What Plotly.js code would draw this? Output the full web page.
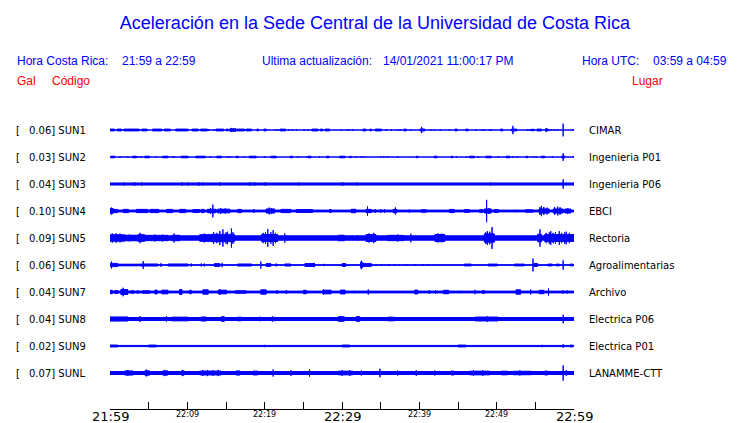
<!DOCTYPE html>
<html><head><meta charset="utf-8">
<script src="https://cdn.plot.ly/plotly-3.0.1.min.js"></script>
<style>html,body{margin:0;padding:0;background:#fff}</style>
</head><body><div id="chart" style="width:740px;height:423px"></div>
<script>
// ---------------- data ----------------
var stationCodes = ["SUN1","SUN2","SUN3","SUN4","SUN5","SUN6","SUN7","SUN8","SUN9","SUNL"];
var peakGal = [0.06,0.03,0.04,0.10,0.09,0.06,0.04,0.04,0.02,0.07];
var places = ["CIMAR","Ingenieria P01","Ingenieria P06","EBCI","Rectoria","Agroalimentarias","Archivo","Electrica P06","Electrica P01","LANAMME-CTT"];
var timeTickMinutes = [0,5,10,15,20,25,30,35,40,45,50,55,60];
var timeLabelMinutes = [0,10,20,30,40,50,60];
var timeLabels = ["21:59","22:09","22:19","22:29","22:39","22:49","22:59"];
var majorLabel = [true,false,false,true,false,false,true];
// continuous background envelope (half amplitude, Gal) per station
var baseAmp = [0,0,0.009,0.008,0.019,0.003,0.008,0.013,0.005,0.013];
// bursts: [start minute, end minute, half amplitude Gal]
var sun1 = [[0,0.6,.008],[0.9,1.5,.008],[1.8,3.8,.008],[4.1,4.8,.008],[5.5,6.7,.008],[7.0,7.8,.008],[8.5,10.1,.008],[10.6,11.4,.008],[11.7,12.6,.008],[12.8,12.8,.008],[13.4,13.4,.008],[13.7,14.7,.008],[15.0,15.3,.008],[15.5,16.3,.011],[15.7,15.7,.018],[16.4,17.4,.008],[17.6,18.3,.008],[19.0,19.2,.008],[19.9,20.2,.008],[21.4,21.4,.006],[21.7,21.7,.006],[22.0,22.7,.008],[23.1,23.1,.006],[23.6,23.6,.006],[24.1,24.1,.006],[25.1,25.1,.006],[25.6,25.6,.006],[26.1,26.9,.008],[27.2,27.5,.008],[27.8,28.4,.008],[29.9,29.9,.006],[30.7,30.7,.006],[31.0,31.0,.006],[31.4,31.4,.006],[32.7,33.1,.008],[33.6,33.8,.008],[34.3,35.1,.008],[35.7,35.7,.006],[36.4,36.4,.006],[37.1,37.1,.006],[37.5,37.5,.006],[38.0,38.3,.008],[38.9,38.9,.006],[40.1,40.7,.009],[40.3,40.3,.027],[41.5,41.5,.006],[41.9,41.9,.006],[42.7,42.7,.006],[43.9,43.9,.006],[44.6,44.9,.008],[46.0,46.3,.008],[47.3,47.3,.006],[48.1,48.1,.006],[48.4,48.4,.006],[49.1,49.1,.006],[49.3,49.3,.006],[50.5,50.8,.008],[51.9,52.6,.008],[52.1,52.1,.036],[54.0,54.0,.006],[54.2,54.2,.006],[54.4,54.9,.006],[55.2,55.8,.008],[56.3,56.7,.008],[56.4,56.4,.018],[57.0,57.0,.006],[57.5,57.5,.006],[57.9,57.9,.006],[58.6,58.6,.055],[59.9,59.9,.008]];
var sun2 = [[0.1,0.6,.007],[1.3,1.3,.006],[2.3,2.3,.006],[2.9,3.4,.007],[3.6,3.6,.006],[4.0,4.0,.006],[4.5,5.1,.007],[5.9,5.9,.006],[6.8,7.5,.007],[8.1,8.1,.006],[8.3,8.3,.006],[9.2,10.1,.007],[11.1,12.3,.007],[13.0,13.0,.006],[13.8,14.4,.007],[15.2,15.2,.006],[15.5,15.5,.006],[16.3,16.6,.006],[17.4,17.4,.006],[18.0,18.9,.007],[20.0,20.0,.006],[20.8,21.5,.007],[23.3,23.6,.007],[24.3,24.3,.006],[25.4,25.4,.006],[25.6,26.0,.007],[27.1,27.1,.006],[28.0,28.3,.007],[29.7,30.4,.007],[31.0,31.2,.006],[31.8,31.8,.006],[32.5,32.5,.006],[32.8,32.8,.006],[35.0,35.0,.006],[35.4,35.4,.006],[35.9,35.9,.006],[37.2,37.2,.006],[39.6,39.8,.007],[41.9,42.3,.007],[44.1,44.3,.007],[44.8,44.8,.006],[46.1,46.1,.006],[46.5,47.1,.007],[47.6,47.6,.006],[48.6,49.3,.007],[50.2,50.2,.006],[51.2,51.7,.007],[52.1,52.1,.006],[52.7,52.7,.006],[53.8,54.0,.007],[54.7,54.7,.006],[55.1,55.1,.006],[55.8,56.2,.007],[57.2,57.2,.006],[58.4,58.8,.008],[58.6,58.6,.033],[59.9,59.9,.006]];
var sun3 = [[1.8,1.8,.014],[3.2,3.2,.017],[4.1,4.1,.014],[9.3,9.3,.014],[10.1,10.1,.014],[11.5,11.5,.017],[12.0,12.0,.014],[14.2,14.2,.015],[18.1,18.1,.017],[18.7,18.7,.014],[20.1,20.1,.017],[24.4,24.4,.014],[30.1,30.1,.017],[31.9,31.9,.014],[49.2,49.2,.014],[58.6,58.6,.04]];
var sun4 = [[0,0.4,.022],[0.2,0.2,.03],[0.4,1.0,.014],[1.7,2.4,.014],[3.4,4.9,.014],[5.2,6.3,.014],[7.3,8.1,.014],[9.0,9.8,.014],[10.7,11.6,.012],[11.8,12.2,.014],[12.6,13.7,.015],[13.0,13.0,.025],[13.3,13.3,.055],[13.9,15.5,.016],[14.3,14.3,.025],[14.9,14.9,.022],[16.5,17.0,.014],[18.6,18.6,.016],[20.2,21.3,.018],[20.6,20.6,.03],[20.9,20.9,.026],[22.1,23.4,.014],[24.1,26.2,.012],[28.4,28.6,.013],[31.2,31.8,.015],[33.1,33.8,.014],[33.3,33.3,.04],[34.3,34.3,.016],[35.0,35.0,.016],[35.5,35.5,.016],[36.6,37.1,.014],[36.9,36.9,.031],[38.7,38.7,.013],[40.2,40.9,.01],[43.9,44.5,.014],[45.8,46.5,.011],[47.8,48.2,.012],[48.4,49.3,.018],[48.7,48.7,.097],[49.0,49.0,.025],[49.7,50.2,.013],[52.5,52.5,.01],[53.7,54.7,.01],[55.5,56.8,.018],[55.6,55.6,.035],[55.8,55.8,.045],[56.1,56.1,.035],[56.5,56.5,.03],[57.3,58.6,.018],[57.5,57.5,.035],[57.9,57.9,.038],[58.2,58.2,.032],[58.8,59.6,.017],[59.2,59.2,.025]];
var sun5 = [[0,1.9,.028],[0.3,0.3,.04],[0.8,0.8,.04],[1.3,1.3,.038],[1.9,3.6,.024],[2.5,2.5,.03],[3.6,4.5,.029],[3.9,3.9,.045],[4.5,7.5,.023],[5.8,5.8,.031],[6.8,6.8,.031],[8.0,9.0,.024],[8.3,8.3,.039],[11.6,13.1,.029],[12.2,12.2,.039],[12.7,12.7,.036],[13.1,16.1,.032],[13.4,13.4,.05],[13.8,13.8,.045],[14.2,14.2,.06],[14.6,14.6,.075],[15.0,15.0,.05],[15.2,15.2,.055],[15.7,15.7,.083],[15.9,15.9,.05],[19.6,21.7,.03],[19.8,19.8,.045],[20.1,20.1,.05],[20.4,20.4,.077],[20.8,20.8,.05],[21.1,21.1,.068],[21.4,21.4,.045],[22.6,22.6,.039],[29.5,30.3,.024],[32.0,32.0,.025],[33.1,34.4,.03],[33.5,33.5,.04],[34.1,34.1,.045],[35.9,38.0,.023],[37.2,37.2,.031],[38.9,38.9,.037],[42.0,43.3,.03],[42.4,42.4,.04],[42.9,42.9,.038],[48.4,49.7,.036],[48.6,48.6,.05],[48.8,48.8,.06],[49.1,49.1,.055],[49.4,49.4,.095],[55.3,55.8,.033],[55.6,55.6,.075],[56.2,60,.03],[56.4,56.4,.045],[56.8,56.8,.05],[57.0,57.0,.06],[57.3,57.3,.045],[57.6,57.6,.05],[58.1,58.1,.06],[58.4,58.4,.045],[58.8,58.8,.05],[59.0,59.0,.055],[59.4,59.4,.045]];
var sun6 = [[0,1.0,.014],[0.2,0.2,.031],[1.0,4.0,.007],[4.3,4.3,.034],[4.0,6.2,.009],[6.6,6.6,.016],[7.5,10.1,.009],[10.5,10.5,.013],[11.8,11.8,.013],[12.2,12.2,.013],[13.5,14.2,.012],[14.5,14.5,.019],[16.5,18.3,.009],[19.5,19.5,.031],[20.2,20.8,.012],[21.5,21.5,.013],[22.6,23.4,.009],[25.2,26.4,.012],[26.4,26.4,.019],[27.7,27.7,.01],[30.0,30.5,.012],[32.4,32.7,.022],[32.5,32.5,.037],[32.7,33.8,.012],[35.1,35.1,.008],[36.1,36.1,.008],[36.8,36.8,.008],[38.3,38.3,.008],[39.4,39.4,.008],[40.5,40.5,.008],[41.1,41.1,.008],[45.8,46.7,.008],[48.9,50.1,.008],[52.3,53.6,.008],[54.7,54.7,.055],[54.8,55.3,.012],[56.6,57.2,.008],[57.7,58.1,.008],[58.6,58.6,.04],[59.5,59.9,.008]];
var sun7 = [[0,0.3,.015],[0.6,1.0,.012],[1.4,2.3,.022],[1.7,1.7,.037],[2.7,3.1,.01],[3.5,3.7,.01],[4.2,5.1,.01],[5.8,6.1,.017],[6.7,7.5,.016],[9.0,9.3,.022],[10.3,10.5,.015],[12.0,12.7,.019],[14.0,15.1,.016],[14.2,14.2,.025],[16.2,17.6,.01],[19.5,20.2,.019],[21.6,21.6,.016],[22.8,22.8,.016],[25.0,25.4,.015],[27.5,28.6,.016],[27.6,27.6,.022],[29.8,30.4,.017],[31.6,31.6,.01],[33.4,33.4,.022],[34.3,34.3,.008],[39.4,39.8,.017],[41.3,41.3,.016],[42.1,42.1,.016],[43.1,43.8,.015],[45.3,45.3,.01],[47.2,47.2,.019],[48.2,48.4,.013],[52.5,53.1,.019],[54.4,54.4,.022],[55.5,56.1,.015],[56.7,56.7,.031],[58.6,58.6,.013],[59.1,59.1,.013]];
var sun8 = [[0,2.3,.018],[3.9,3.9,.025],[7.3,7.3,.025],[8.0,10.1,.016],[11.8,12.4,.018],[14.4,14.8,.02],[16.5,17.0,.016],[19.3,19.5,.016],[21.0,21.0,.025],[21.3,21.3,.019],[29.5,30.3,.02],[31.8,32.3,.02],[35.9,36.8,.016],[47.2,50.2,.017],[48.8,48.8,.025],[58.6,58.6,.037]];
var sun9 = [[0,1.0,.008],[5.0,6.0,.008],[20.0,20.0,.01],[30.0,31.0,.008],[45.0,46.0,.008],[55.9,55.9,.01],[58.6,58.6,.016],[59.5,59.8,.008]];
var sunl = [[1.9,3.0,.018],[2.3,2.3,.026],[4.5,5.1,.019],[4.7,4.7,.03],[6.8,7.5,.018],[7.1,7.1,.027],[9.2,9.6,.018],[9.4,9.4,.027],[11.6,14.4,.017],[12.0,12.0,.026],[12.6,12.6,.027],[13.3,13.3,.025],[14.0,14.0,.027],[16.3,16.8,.018],[18.5,19.1,.017],[21.1,21.1,.031],[23.4,23.4,.025],[25.8,25.8,.031],[29.5,31.4,.016],[30.0,30.0,.025],[31.0,31.0,.025],[32.5,32.5,.022],[34.9,34.9,.037],[37.2,37.2,.022],[39.6,39.6,.025],[42.0,42.0,.022],[44.1,44.5,.017],[46.5,49.1,.016],[47.0,47.0,.024],[48.2,48.2,.024],[50.6,51.4,.016],[52.1,54.5,.015],[53.0,53.0,.022],[56.2,56.6,.017],[58.6,58.6,.066],[59.0,59.0,.025]];
var bursts = [sun1,sun2,sun3,sun4,sun5,sun6,sun7,sun8,sun9,sunl];

// ---------------- layout constants ----------------
var BLUE = "#0000ff", RED = "#ff0000";
var PL = 110, PW = 464, PT = 105, PH = 304;     // plot area in px
var pxPerGal = 115, rowPx = 27, firstRowPx = 130;
var S = rowPx / pxPerGal;
var yTop = (firstRowPx - PT) / pxPerGal;
var yBot = yTop - PH / pxPerGal;
function px2x(px){ return (px - PL) / PW; }
function px2y(py){ return (PT + PH - py) / PH; }

var traces = [];
stationCodes.forEach(function(code, k){
  var c = -k * S;
  var xs = [], ys = [];
  var ev = [[0, 60, baseAmp[k]]].concat(bursts[k]);
  ev.forEach(function(e){
    xs.push(e[0], e[0], e[1], e[1], e[0], null);
    ys.push(c - e[2], c + e[2], c + e[2], c - e[2], c - e[2], null);
  });
  traces.push({x: xs, y: ys, type: "scatter", mode: "lines", fill: "toself",
    fillcolor: BLUE, line: {color: BLUE, width: 1}, hoverinfo: "skip", showlegend: false});
});

var ann = [];
function txt(t, px, py, size, color, family, anchor){
  ann.push({text: t, xref: "paper", yref: "paper", x: px2x(px), y: px2y(py),
    xanchor: anchor || "left", yanchor: "middle", showarrow: false,
    font: {size: size, color: color, family: family}});
}
var HF = "Liberation Sans, Arial, sans-serif";
var DF = "DejaVu Sans, sans-serif";
txt("Hora Costa Rica:", 15, 61, 12, BLUE, HF);
txt("21:59 a 22:59", 120, 61, 12, BLUE, HF);
txt("Ultima actualización:", 260, 61, 12, BLUE, HF);
txt("14/01/2021 11:00:17 PM", 381, 61, 12, BLUE, HF);
txt("Hora UTC:", 580, 61, 12, BLUE, HF);
txt("03:59 a 04:59", 651, 61, 12, BLUE, HF);
txt("Gal", 15, 81, 12, RED, HF);
txt("Código", 50, 81, 12, RED, HF);
txt("Lugar", 630, 81, 12, RED, HF);

stationCodes.forEach(function(code, k){
  var c = -k * S;
  ann.push({text: "[", xref: "paper", yref: "y", x: px2x(14), y: c, xanchor: "left", yanchor: "middle",
    showarrow: false, font: {size: 10, color: "#000", family: DF}});
  ann.push({text: peakGal[k].toFixed(2) + "] " + code, xref: "paper", yref: "y", x: px2x(27), y: c,
    xanchor: "left", yanchor: "middle", showarrow: false, font: {size: 10, color: "#000", family: DF}});
  ann.push({text: places[k], xref: "paper", yref: "y", x: px2x(587), y: c, xanchor: "left", yanchor: "middle",
    showarrow: false, font: {size: 10, color: "#000", family: DF}});
});
timeLabelMinutes.forEach(function(m, i){
  ann.push({text: timeLabels[i], xref: "x", yref: "paper", x: m, y: px2y(majorLabel[i] ? 416 : 415),
    xanchor: "center", yanchor: "middle", showarrow: false,
    font: {size: majorLabel[i] ? 13 : 8, color: "#000", family: DF}});
});

var layout = {
  width: 740, height: 423,
  margin: {l: PL, r: 740 - PL - PW, t: PT, b: 423 - PT - PH, pad: 0},
  paper_bgcolor: "#fff", plot_bgcolor: "#fff",
  title: {text: "Aceleración en la Sede Central de la Universidad de Costa Rica",
    font: {family: HF, size: 18, color: BLUE}, x: 375/740, xanchor: "center", y: 1 - 23/423, yanchor: "middle",
    xref: "container", yref: "container"},
  xaxis: {range: [0, 60], tickvals: timeTickMinutes, ticks: "inside", ticklen: 7, tickwidth: 1, tickcolor: "#000",
    showticklabels: false, showline: true, linecolor: "#000", linewidth: 1, showgrid: false, zeroline: false,
    fixedrange: true},
  yaxis: {range: [yBot, yTop], visible: false, fixedrange: true},
  annotations: ann,
  showlegend: false
};
Plotly.newPlot("chart", traces, layout, {staticPlot: true, displayModeBar: false});
</script></body></html>
